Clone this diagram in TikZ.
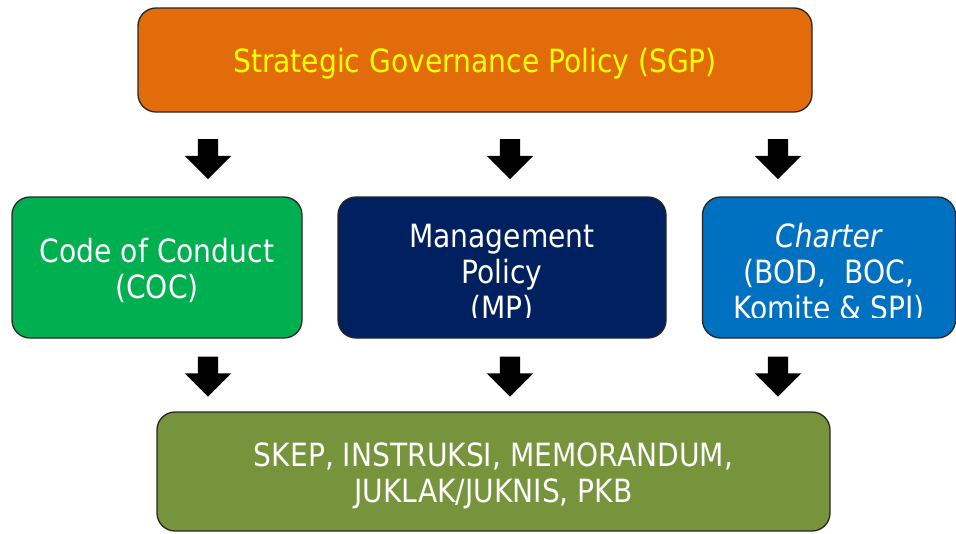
\documentclass[tikz,border=0pt]{standalone}
\usepackage{fontspec}
\setmainfont[FakeStretch=0.88]{DejaVu Sans}
\usepackage{tikz}
\usetikzlibrary{shapes.arrows, positioning}
\definecolor{sgporange}{RGB}{227,108,10}
\definecolor{sgpyellow}{RGB}{255,255,0}
\definecolor{cocgreen}{RGB}{0,176,80}
\definecolor{mpnavy}{RGB}{0,32,96}
\definecolor{chrblue}{RGB}{0,112,192}
\definecolor{pkbolive}{RGB}{119,147,60}

\begin{document}
\begin{tikzpicture}[x=1pt, y=-1pt, font=\fontsize{32}{36}\selectfont,
  b/.style={draw=black!85, line width=1.3pt, rounded corners=18pt,
            inner sep=0pt, minimum height=141pt},
  t/.style={align=center, text=white},
  dn/.style={single arrow, fill=black, rotate=-90, inner sep=10pt,
             minimum height=40pt, minimum width=46pt, single arrow head extend=13pt}]
\useasboundingbox (0,0) rectangle (956,533);
\node[b, fill=sgporange, minimum width=674pt, minimum height=104pt] (sgp) at (475,60) {};
\node[b, fill=cocgreen, minimum width=290pt] (coc) at (157,267.5) {};
\node[b, fill=mpnavy, minimum width=328pt] (mp) at (502,267.5) {};
\node[b, fill=chrblue, minimum width=253pt] (chr) at (829,267.5) {};
\node[b, fill=pkbolive, minimum width=673pt, minimum height=119pt] (pkb) at (493.5,471.5) {};
% labels
\node[t, text=sgpyellow] (sgptext) at ([yshift=-4pt]sgp.center) {Strategic Governance Policy (SGP)};
\node[t] (coctext) at ([yshift=-3pt]coc.center) {Code of Conduct\\(COC)};
\node[t] (pkbtext) at ([yshift=-4pt]pkb.center) {SKEP, INSTRUKSI, MEMORANDUM,\\JUKLAK/JUKNIS, PKB};
% text cut off at the box bottom
\begin{scope}
  \clip (mp.north west) rectangle ([yshift=21pt]mp.south east);
  \node[t] (mptext) at ([yshift=-6pt]mp.center) {Management\\Policy\\(MP)};
\end{scope}
\begin{scope}
  \clip (chr.north west) rectangle ([yshift=21pt]chr.south east);
  \node[t] (chrtext) at ([yshift=-6pt]chr.center) {\textit{Charter}\\(BOD,~~BOC,\\Komite \& SPI)};
\end{scope}
\node[dn] (a1) at (208,154) {};
\node[dn] (a2) at (510,154) {};
\node[dn] (a3) at (778,154) {};
\node[dn] (a4) at (208,371.5) {};
\node[dn] (a5) at (510,371.5) {};
\node[dn] (a6) at (778,371.5) {};
\end{tikzpicture}
\end{document}
